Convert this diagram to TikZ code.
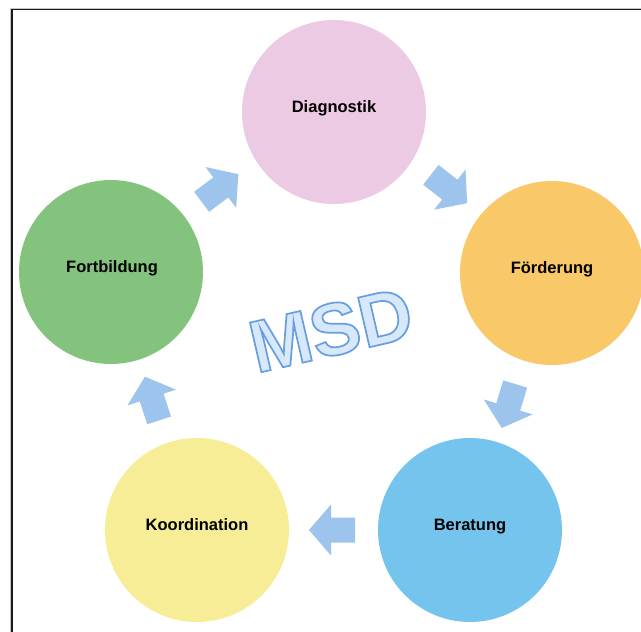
\documentclass[tikz,border=0pt]{standalone}
\usepackage{fontspec}
\setmainfont{Liberation Sans}
\definecolor{cpink}{RGB}{237,202,227}
\definecolor{corange}{RGB}{249,200,104}
\definecolor{cblue}{RGB}{117,196,237}
\definecolor{cyellow}{RGB}{246,237,150}
\definecolor{cgreen}{RGB}{132,195,126}
\definecolor{arrowblue}{RGB}{157,196,236}
\definecolor{msdfill}{RGB}{214,232,250}
\newcommand{\msdtext}[1]{%
  \special{pdf:literal direct 2 Tr 1.7 w 0.40 0.62 0.88 RG}#1%
  \special{pdf:literal direct 0 Tr}}
\begin{document}
\begin{tikzpicture}[x=1pt,y=-1pt,
  circ/.style={circle, inner sep=0pt, minimum size=184pt, draw=none},
  lbl/.style={font=\fontsize{16.5}{19}\selectfont\bfseries, text=black, inner sep=0pt, anchor=base},
  blockarrow/.style={fill=arrowblue, draw=none}]
\clip (0,0) rectangle (641,632);
\fill[white] (0,0) rectangle (641,632);
% frame
\draw[gray!45, line width=2.8pt] (11.4,650) -- (11.4,9) -- (650,9);
\draw[black!90, line width=1.5pt] (11.8,650) -- (11.8,9.3) -- (650,9.3);
% circles
\node[circ, fill=cpink]   (diag)  at (334,112) {};
\node[circ, fill=corange] (foerd) at (552,273) {};
\node[circ, fill=cblue]   (berat) at (470,530) {};
\node[circ, fill=cyellow] (koord) at (197,530) {};
\node[circ, fill=cgreen]  (fortb) at (111,272) {};
% labels
\node[lbl] (tdiag)  at (diag.center)  {Diagnostik};
\node[lbl] (tfoerd) at (foerd.center) {Förderung};
\node[lbl] (tberat) at (berat.center) {Beratung};
\node[lbl] (tkoord) at (koord.center) {Koordination};
\node[lbl] (tfortb) at ([xshift=1pt]fortb.center) {Fortbildung};
% block arrows
\foreach \px/\py/\ang in {220/188/37, 449/189/-38, 508.5/406/-107, 332/530/180, 152/398.5/108}{
  \fill[blockarrow, shift={(\px,\py)}, rotate=\ang]
    (-23,-12.5) -- (1,-12.5) -- (1,-25.5) -- (23,0) -- (1,25.5) -- (1,12.5) -- (-23,12.5) -- cycle;
}
% MSD
\node[rotate=13, font=\fontsize{74}{80}\selectfont\bfseries, text=msdfill, inner sep=0pt] (msd) at (331,330)
  {\msdtext{MSD}};
\end{tikzpicture}
\end{document}
